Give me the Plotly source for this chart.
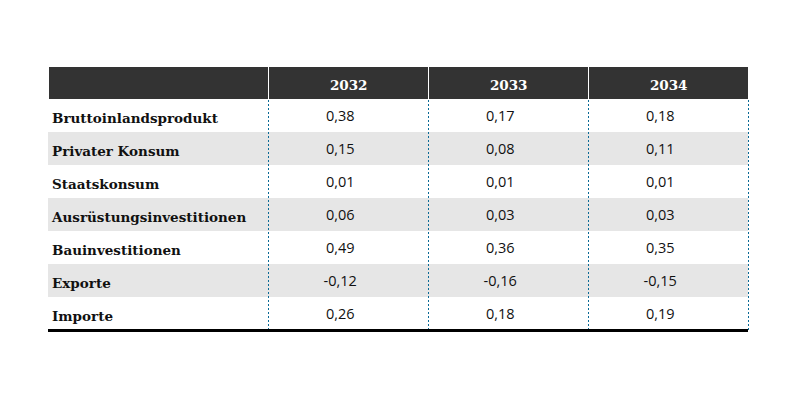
import plotly.graph_objects as go

categories = ["Bruttoinlandsprodukt", "Privater Konsum", "Staatskonsum",
              "Ausrüstungsinvestitionen", "Bauinvestitionen", "Exporte", "Importe"]
years = ["2032", "2033", "2034"]
v2032 = [0.38, 0.15, 0.01, 0.06, 0.49, -0.12, 0.26]
v2033 = [0.17, 0.08, 0.01, 0.03, 0.36, -0.16, 0.18]
v2034 = [0.18, 0.11, 0.01, 0.03, 0.35, -0.15, 0.19]

NB = "\u00a0"

def fmt(v):
    return f"{v:.2f}".replace(".", ",") + NB * 2

W, H = 800, 400
OFF = 8  # page body margin
left, right, top, row_h = 48 - OFF, 748 - OFF, 66 - OFF, 33
colw = [220, 160, 160, 160]
nrows = len(categories)
bottom = top + row_h * (nrows + 1)

fills = ["#ffffff" if i % 2 == 0 else "#e6e6e6" for i in range(nrows)]

# background table: fills and header
bg = go.Table(
    domain=dict(x=[left / W, right / W], y=[1 - bottom / H, 1 - top / H]),
    columnwidth=colw,
    header=dict(values=["", "", "", ""], fill_color="#333333",
                line=dict(color="#ffffff", width=1), height=row_h),
    cells=dict(values=[[""] * nrows] * 4, fill_color=[fills] * 4,
               line=dict(width=0), height=row_h),
)

dx, dy = -4, 3
txt = go.Table(
    domain=dict(x=[(left + dx) / W, (right + dx) / W],
                y=[1 - (bottom + dy) / H, 1 - (top + dy) / H]),
    columnwidth=colw,
    header=dict(
        values=[""] + [f"<b>{NB * 2}{y}</b>" for y in years],
        fill_color="rgba(0,0,0,0)",
        line=dict(width=0),
        font=dict(family="DejaVu Serif", size=13.5, color="#ffffff"),
        align="center",
        height=row_h,
    ),
    cells=dict(
        values=[[f"<b>{c}</b>" for c in categories],
                [fmt(v) for v in v2032],
                [fmt(v) for v in v2033],
                [fmt(v) for v in v2034]],
        fill_color="rgba(0,0,0,0)",
        line=dict(width=0),
        font=dict(family=["DejaVu Serif", "Open Sans", "Open Sans", "Open Sans"],
                  size=[13.5, 14.5, 14.5, 14.5], color="#111111"),
        align=["left", "center", "center", "center"],
        height=row_h,
    ),
)

fig = go.Figure([bg, txt])

shapes = []
x = left
for w in colw:
    x += w
    xs = (x + 0.5) / W
    shapes.append(dict(type="line", xref="paper", yref="paper",
                       x0=xs, x1=xs, y0=1 - bottom / H, y1=1 - (top + row_h) / H,
                       line=dict(color="#0a6a96", width=1, dash="2px,2px"), layer="above"))
shapes.append(dict(type="line", xref="paper", yref="paper",
                   x0=left / W, x1=right / W, y0=1 - (bottom + 0.5) / H, y1=1 - (bottom + 0.5) / H,
                   line=dict(color="#000000", width=3), layer="above"))

fig.update_layout(width=W, height=H, margin=dict(l=0, r=0, t=0, b=0),
                  paper_bgcolor="#ffffff", shapes=shapes)
fig.write_html("out.html")
